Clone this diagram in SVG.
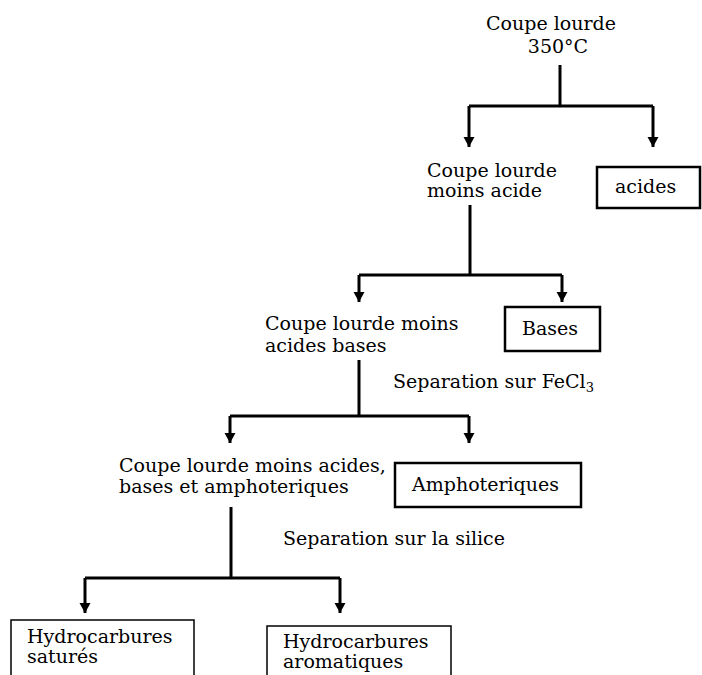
<svg xmlns="http://www.w3.org/2000/svg" width="702" height="675" viewBox="0 0 702 675">
<style>
text{font-family:"DejaVu Serif","Liberation Serif",serif;font-size:19px;fill:#000}
.c{fill:none;stroke:#000;stroke-width:3}
.b{fill:#fff;stroke:#000;stroke-width:2.5}
.bt{fill:#fff;stroke:#000;stroke-width:1.5}
</style>
<defs>
<marker id="ah" markerUnits="userSpaceOnUse" markerWidth="12" markerHeight="12" refX="10" refY="5.5" orient="auto">
<path d="M0,0 L10,5.5 L0,11 Z" fill="#000"/>
</marker>
</defs>
<rect width="702" height="675" fill="#fff"/>
<g id="connectors">
<path class="c" d="M560,65 V106"/>
<path class="c" d="M469,106 H653"/>
<path class="c" d="M469,106 V147" marker-end="url(#ah)"/>
<path class="c" d="M653,106 V147" marker-end="url(#ah)"/>
<path class="c" d="M470,205 V275"/>
<path class="c" d="M359,275 H562"/>
<path class="c" d="M359,275 V302" marker-end="url(#ah)"/>
<path class="c" d="M562,275 V302" marker-end="url(#ah)"/>
<path class="c" d="M359,360 V416"/>
<path class="c" d="M230,416 H469"/>
<path class="c" d="M230,416 V443" marker-end="url(#ah)"/>
<path class="c" d="M469,416 V443" marker-end="url(#ah)"/>
<path class="c" d="M231,507 V578"/>
<path class="c" d="M85,578 H340"/>
<path class="c" d="M85,578 V613" marker-end="url(#ah)"/>
<path class="c" d="M340,578 V613" marker-end="url(#ah)"/>
</g>
<g id="n1">
<text x="551" y="30" text-anchor="middle">Coupe lourde</text>
<text x="558" y="53" text-anchor="middle">350°C</text>
</g>
<g id="n2">
<text x="427" y="177">Coupe lourde</text>
<text x="427" y="197">moins acide</text>
</g>
<g id="n3">
<rect class="b" x="597" y="167" width="103" height="41"/>
<text x="615" y="193">acides</text>
</g>
<g id="n4">
<text x="265" y="330">Coupe lourde moins</text>
<text x="265" y="352">acides bases</text>
</g>
<g id="n5">
<rect class="b" x="505" y="307" width="95" height="44"/>
<text x="522" y="335">Bases</text>
</g>
<g id="l1">
<text x="393" y="388">Separation sur FeCl<tspan font-size="13" dy="4">3</tspan></text>
</g>
<g id="n6">
<text x="119" y="472">Coupe lourde moins acides,</text>
<text x="119" y="493">bases et amphoteriques</text>
</g>
<g id="n7">
<rect class="b" x="395" y="463" width="186" height="44"/>
<text x="412" y="491">Amphoteriques</text>
</g>
<g id="l2">
<text x="283" y="545">Separation sur la silice</text>
</g>
<g id="n8">
<rect class="bt" x="11" y="620" width="183" height="70"/>
<text x="27" y="643">Hydrocarbures</text>
<text x="27" y="663">saturés</text>
</g>
<g id="n9">
<rect class="bt" x="267" y="626" width="184" height="70"/>
<text x="283" y="648">Hydrocarbures</text>
<text x="283" y="668">aromatiques</text>
</g>
</svg>
